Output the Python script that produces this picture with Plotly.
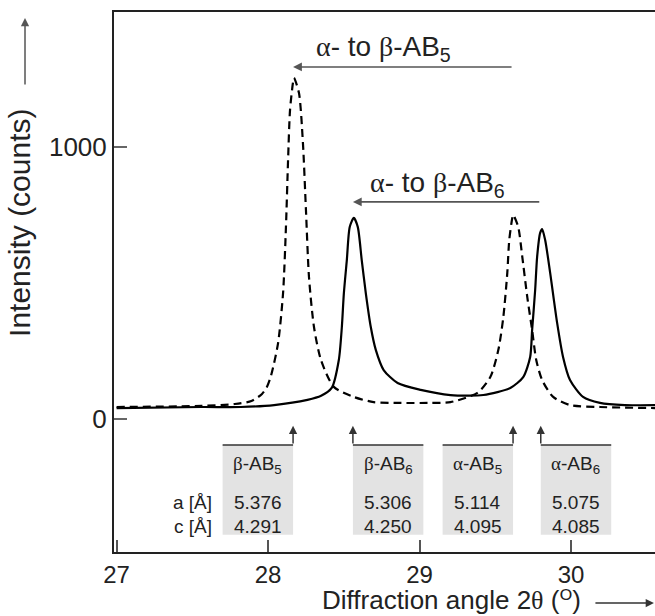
import plotly.graph_objects as go

# ---- data ----
# solid curve (AB6 sample)
solid_x = [27.00, 27.56, 27.82, 28.04, 28.26, 28.35, 28.42, 28.467, 28.487, 28.50, 28.52, 28.539,
           28.566, 28.592, 28.618, 28.645, 28.678, 28.711, 28.763, 28.855, 29.007, 29.204, 29.421,
           29.599, 29.684, 29.730, 29.743, 29.763, 29.776, 29.796, 29.809, 29.829, 29.862, 29.908,
           29.947, 29.993, 30.079, 30.191, 30.355, 30.56]
solid_y = [40, 44, 44, 51, 70, 85, 114, 217, 338, 460, 585, 706,
           739, 706, 585, 463, 338, 254, 180, 132, 107, 88, 88,
           114, 154, 228, 327, 474, 596, 684, 698, 658, 537, 353,
           228, 143, 81, 59, 51, 51]
# dashed curve (AB5 sample)
dash_x = [27.00, 27.56, 27.78, 27.89, 27.96, 27.99, 28.02, 28.066, 28.099, 28.118, 28.132, 28.145,
          28.164, 28.171, 28.204, 28.230, 28.250, 28.270, 28.303, 28.349, 28.434, 28.566, 28.697,
          28.875, 29.072, 29.204, 29.382, 29.467, 29.520, 29.553, 29.579, 29.592, 29.612, 29.618,
          29.651, 29.678, 29.711, 29.743, 29.770, 29.809, 29.882, 29.993, 30.191, 30.56]
dash_y = [44, 48, 55, 66, 92, 115, 160, 279, 463, 706, 952, 1136,
          1235, 1254, 1198, 1015, 768, 522, 338, 217, 118, 81, 62,
          59, 59, 62, 96, 154, 254, 375, 537, 658, 739, 750,
          706, 596, 448, 327, 217, 143, 81, 51, 44, 40]

phases = ["β-AB", "β-AB", "α-AB", "α-AB"]
phase_sub = ["5", "6", "5", "6"]
peak_pos = [28.165, 28.56, 29.617, 29.80]
peak_side = ["right", "left", "right", "left"]   # where the peak lies on the label box
a_vals = ["5.376", "5.306", "5.114", "5.075"]
c_vals = ["4.291", "4.250", "4.095", "4.085"]

x_ticks = [27, 28, 29, 30]
y_ticks = [0, 1000]

SERIF = "Liberation Serif"
SANS = "Liberation Sans, Arial, sans-serif"


def greek(s):
    out = ""
    for ch in s:
        if ch in "αβθ":
            out += f'<span style="font-family:{SERIF}">{ch}</span>'
        else:
            out += ch
    return out


fig = go.Figure()
fig.add_trace(go.Scatter(x=dash_x, y=dash_y, mode="lines",
                         line=dict(color="black", width=2.2, dash="8px,5px", shape="spline", smoothing=0.7),
                         showlegend=False, hoverinfo="skip"))
fig.add_trace(go.Scatter(x=solid_x, y=solid_y, mode="lines",
                         line=dict(color="black", width=2.2, shape="spline", smoothing=0.7),
                         showlegend=False, hoverinfo="skip"))

ann = []
shapes = []
arrow_col = "#555555"

# transformation arrows (alpha peak -> beta peak)
top_arrows = [(2, 0, 1294, 28.30, 1362, "5"), (3, 1, 798, 28.66, 862, "6")]
for ia, ib, yy, tx, ty, sub in top_arrows:
    ann.append(dict(x=peak_pos[ib], y=yy, ax=peak_pos[ia], ay=yy, xref="x", yref="y",
                    axref="x", ayref="y", text="", showarrow=True, arrowhead=2,
                    arrowsize=1.1, arrowwidth=1.6, arrowcolor=arrow_col, standoff=0))
    ann.append(dict(x=tx, y=ty, xref="x", yref="y", xanchor="left", yanchor="middle",
                    text=greek("α- to β-AB") + f"<sub>{sub}</sub>", showarrow=False,
                    font=dict(size=28, color="#222", family=SANS)))

# label boxes under the peaks
box_w = 0.465
box_top, box_bot = -96, -426
arrow_tip = -25
for i in range(len(phases)):
    p = peak_pos[i]
    if peak_side[i] == "right":
        x0, x1 = p - box_w, p
    else:
        x0, x1 = p, p + box_w
    shapes.append(dict(type="rect", xref="x", yref="y", x0=x0, x1=x1, y0=box_bot, y1=box_top,
                       fillcolor="#e3e3e3", line=dict(width=0), layer="below"))
    shapes.append(dict(type="line", xref="x", yref="y", x0=x0, x1=x1, y0=box_top, y1=box_top,
                       line=dict(color="#333", width=1.5)))
    ann.append(dict(x=p, y=arrow_tip, ax=p, ay=box_top, xref="x", yref="y", axref="x", ayref="y",
                    text="", showarrow=True, arrowhead=2, arrowsize=1.1, arrowwidth=1.5,
                    arrowcolor="#333", standoff=0))
    xc = (x0 + x1) / 2
    ann.append(dict(x=xc, y=-169, xref="x", yref="y", text=greek(phases[i]) + f"<sub>{phase_sub[i]}</sub>",
                    showarrow=False, font=dict(size=19, color="#222", family=SANS)))
    ann.append(dict(x=xc, y=-308, xref="x", yref="y", text=a_vals[i], showarrow=False,
                    font=dict(size=19, color="#222", family=SANS)))
    ann.append(dict(x=xc, y=-395, xref="x", yref="y", text=c_vals[i], showarrow=False,
                    font=dict(size=19, color="#222", family=SANS)))

ann.append(dict(x=27.64, y=-308, xref="x", yref="y", xanchor="right", text="a [Å]", showarrow=False,
                font=dict(size=19, color="#222", family=SANS)))
ann.append(dict(x=27.64, y=-395, xref="x", yref="y", xanchor="right", text="c [Å]", showarrow=False,
                font=dict(size=19, color="#222", family=SANS)))

# axis titles with arrows
ann.append(dict(x=-0.176, y=0.609, xref="paper", yref="paper", xanchor="center", yanchor="middle",
                text="Intensity (counts)", textangle=-90,
                showarrow=False, font=dict(size=30, color="#222", family=SANS)))
ann.append(dict(x=-0.1645, y=0.9889, xref="paper", yref="paper", ax=0, ay=68, text="", showarrow=True,
                arrowhead=2, arrowsize=1.1, arrowwidth=1.5, arrowcolor=arrow_col, standoff=0))
ann.append(dict(x=0.867, y=-0.0885, xref="paper", yref="paper", xanchor="right", yanchor="middle",
                text="Diffraction angle 2" + greek("θ") + ' (<span style="font-family:DejaVu Sans">ᴼ</span>)',
                showarrow=False, font=dict(size=26, color="#222", family=SANS)))
ann.append(dict(x=0.998, y=-0.0945, xref="paper", yref="paper", ax=-60, ay=0, text="", showarrow=True,
                arrowhead=2, arrowsize=1.1, arrowwidth=1.5, arrowcolor="#333", standoff=0))

fig.update_layout(
    width=655, height=616,
    margin=dict(l=114, r=0, t=12, b=64),
    paper_bgcolor="white", plot_bgcolor="white",
    font=dict(family=SANS, color="#222"),
    annotations=ann, shapes=shapes,
    xaxis=dict(range=[26.983, 30.554], tickvals=x_ticks, ticktext=[str(v) for v in x_ticks],
               ticks="inside", ticklen=12, tickwidth=1.5, tickcolor="#555",
               showline=True, linecolor="#222", linewidth=2, mirror=True,
               showgrid=False, zeroline=False, tickfont=dict(size=24, color="#222")),
    yaxis=dict(range=[-489, 1496], tickvals=y_ticks, ticktext=[str(v) for v in y_ticks],
               ticks="inside", ticklen=13, tickwidth=1.5, tickcolor="#666",
               showline=True, linecolor="#222", linewidth=2, mirror=False,
               showgrid=False, zeroline=False, tickfont=dict(size=26, color="#222")),
)

fig.write_html("out.html", config={"displayModeBar": False},
               post_script="document.body.style.margin='0';document.body.style.overflow='hidden';")
